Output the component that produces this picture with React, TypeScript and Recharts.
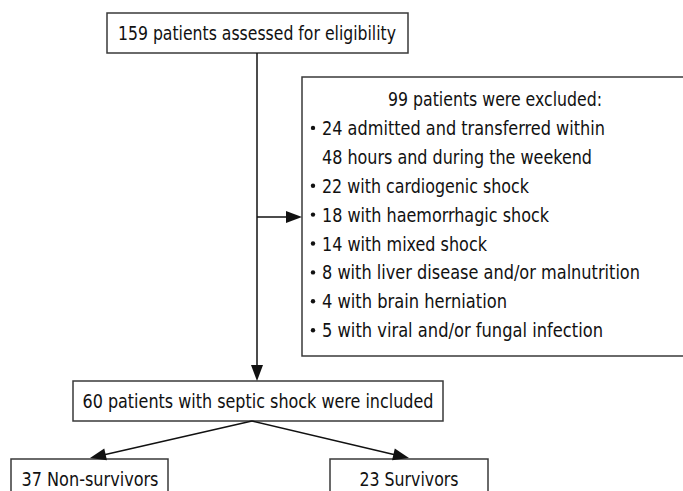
import React from "react";
import {
  ComposedChart,
  XAxis,
  YAxis,
  ReferenceArea,
  ReferenceLine,
  ReferenceDot,
} from "recharts";

// flowchart content
const assessed = "159 patients assessed for eligibility";
const excludedTitle = "99 patients were excluded:";
const excludedLines = [
  "24 admitted and transferred within",
  "48 hours and during the weekend",
  "22 with cardiogenic shock",
  "18 with haemorrhagic shock",
  "14 with mixed shock",
  "8 with liver disease and/or malnutrition",
  "4 with brain herniation",
  "5 with viral and/or fungal infection",
];
const bulleted = [true, false, true, true, true, true, true, true];
const included = "60 patients with septic shock were included";
const outcomes = ["37 Non-survivors", "23 Survivors"];

// layout (chart units = pixels)
const W = 683;
const H = 491;
const FONT = "'Liberation Sans Narrow', 'DejaVu Sans Condensed', 'Open Sans', sans-serif";
const INK = "#111";
const BORDER = "#3a3a3a";

const boxes = [
  { x1: 107, x2: 408, y1: 13, y2: 53 },
  { x1: 302, x2: 700, y1: 77, y2: 356 },
  { x1: 73, x2: 443, y1: 381, y2: 421 },
  { x1: 11, x2: 168, y1: 459, y2: 520 },
  { x1: 330, x2: 488, y1: 459, y2: 520 },
];

const arrows = [
  { from: [257, 53], to: [257, 381] },
  { from: [257, 217], to: [302, 217] },
  { from: [252, 421], to: [90, 458] },
  { from: [252, 421], to: [409, 458] },
];

const lineTop = 106;
const lineGap = 28.9;
const excludedWidths = [283, 270, 207, 227, 165, 318, 185, 281];

type Label = { x: number; y: number; text: string; w: number; anchor: "middle" | "start" };
const labels: Label[] = [
  { x: 257, y: 40, text: assessed, w: 278, anchor: "middle" },
  { x: 495, y: lineTop, text: excludedTitle, w: 214, anchor: "middle" },
  ...excludedLines.map((t, i) => ({
    x: 322,
    y: lineTop + lineGap * (i + 1),
    text: t,
    w: excludedWidths[i],
    anchor: "start" as const,
  })),
  { x: 258, y: 408, text: included, w: 351, anchor: "middle" },
  { x: 90, y: 486, text: outcomes[0], w: 137, anchor: "middle" },
  { x: 409, y: 486, text: outcomes[1], w: 99, anchor: "middle" },
];

const bullets = excludedLines
  .map((_, i) => ({ x: 313, y: lineTop + lineGap * (i + 1) - 7, on: bulleted[i] }))
  .filter((b) => b.on);

const textShape = (l: Label) => (props: any) =>
  (
    <text
      x={props.cx}
      y={props.cy}
      textAnchor={l.anchor}
      fontSize={20}
      fontFamily={FONT}
      fill={INK}
      textLength={l.w}
      lengthAdjust="spacingAndGlyphs"
    >
      {l.text}
    </text>
  );

const headShape = (angle: number) => (props: any) => {
  const len = 16;
  const half = 6;
  const ca = Math.cos(angle);
  const sa = Math.sin(angle);
  const bx = props.cx - ca * len;
  const by = props.cy - sa * len;
  const pts = [
    [props.cx, props.cy],
    [bx - sa * half, by + ca * half],
    [bx + sa * half, by - ca * half],
  ];
  return <polygon points={pts.map((p) => p.join(",")).join(" ")} fill={INK} />;
};

const App: React.FC = () => {
  return (
    <div style={{ position: "absolute", left: 0, top: 0, background: "#fff" }}>
      <ComposedChart width={W} height={H} data={[]} margin={{ top: 0, right: 0, bottom: 0, left: 0 }}>
        <XAxis type="number" dataKey="x" domain={[0, W]} hide allowDataOverflow />
        <YAxis type="number" dataKey="y" domain={[0, H]} reversed hide allowDataOverflow />
        {boxes.map((b, i) => (
          <ReferenceArea
            key={`b${i}`}
            x1={b.x1}
            x2={b.x2}
            y1={b.y1}
            y2={b.y2}
            fill="none"
            fillOpacity={0}
            stroke={BORDER}
            strokeWidth={1.5}
            ifOverflow="visible"
          />
        ))}
        {arrows.map((a, i) => {
          const ang = Math.atan2(a.to[1] - a.from[1], a.to[0] - a.from[0]);
          const lx = a.to[0] - Math.cos(ang) * 8;
          const ly = a.to[1] - Math.sin(ang) * 8;
          return (
            <ReferenceLine
              key={`a${i}`}
              segment={[
                { x: a.from[0], y: a.from[1] },
                { x: lx, y: ly },
              ]}
              stroke={INK}
              strokeWidth={1.5}
              ifOverflow="visible"
            />
          );
        })}
        {arrows.map((a, i) => {
          const ang = Math.atan2(a.to[1] - a.from[1], a.to[0] - a.from[0]);
          return (
            <ReferenceDot
              key={`h${i}`}
              x={a.to[0]}
              y={a.to[1]}
              r={0}
              ifOverflow="visible"
              shape={headShape(ang)}
            />
          );
        })}
        {bullets.map((b, i) => (
          <ReferenceDot key={`d${i}`} x={b.x} y={b.y} r={2.2} fill={INK} stroke="none" ifOverflow="visible" />
        ))}
        {labels.map((l, i) => (
          <ReferenceDot key={`t${i}`} x={l.x} y={l.y} r={0} ifOverflow="visible" shape={textShape(l)} />
        ))}
      </ComposedChart>
    </div>
  );
};

export default App;
